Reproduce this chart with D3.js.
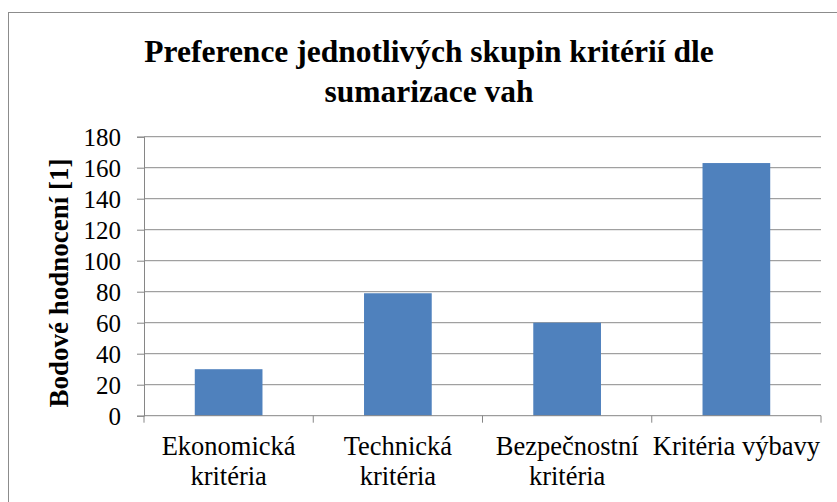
<!DOCTYPE html>
<html>
<head>
<meta charset="utf-8">
<script src="https://cdn.jsdelivr.net/npm/d3@7"></script>
<style>
  body { margin: 0; background: #fff; }
</style>
</head>
<body>
<svg width="837" height="502"></svg>
<script>
const categories = [
    ['Ekonomická', 'kritéria'],
    ['Technická', 'kritéria'],
    ['Bezpečnostní', 'kritéria'],
    ['Kritéria výbavy']
];
const values = [30, 79, 60, 163];
const yTicks = [0, 20, 40, 60, 80, 100, 120, 140, 160, 180];
const titleLines = ['Preference jednotlivých skupin kritérií dle', 'sumarizace vah'];
const yLabel = 'Bodové hodnocení [1]';

const FONT = "'Liberation Serif', 'DejaVu Serif', serif";

const svg = d3.select('svg')
    .attr('font-family', FONT);

// chart frame
svg.append('rect')
    .attr('x', 8.5).attr('y', 12.5)
    .attr('width', 840).attr('height', 500)
    .attr('fill', 'none')
    .attr('stroke', '#8c8c8c');

const plotLeft = 144, plotRight = 821, plotTop = 136.7, plotBottom = 415.7;

const xScale = d3.scaleBand()
    .domain(d3.range(categories.length))
    .range([plotLeft, plotRight])
    .padding(0);

const yScale = d3.scaleLinear()
    .domain([0, 180])
    .range([plotBottom, plotTop]);

// gridlines
svg.append('g')
    .selectAll('line')
    .data(yTicks.filter(d => d > 0))
    .enter()
    .append('line')
    .attr('x1', plotLeft).attr('x2', plotRight)
    .attr('y1', d => yScale(d)).attr('y2', d => yScale(d))
    .attr('stroke', '#8a8a8a');

// bars
svg.append('g')
    .selectAll('rect')
    .data(values)
    .enter()
    .append('rect')
    .attr('x', (d, i) => xScale(i) + xScale.bandwidth() * 0.3)
    .attr('width', xScale.bandwidth() * 0.4)
    .attr('y', d => yScale(d))
    .attr('height', d => plotBottom - yScale(d))
    .attr('fill', '#4f81bd');

// y axis
const yAxis = svg.append('g')
    .attr('transform', `translate(${plotLeft},0)`)
    .call(d3.axisLeft(yScale).tickValues(yTicks).tickSize(7).tickPadding(16));
yAxis.attr('font-family', FONT).attr('font-size', 25);
yAxis.selectAll('text')
    .attr('fill', '#000')
    .attr('dy', '0.34em');

// x axis with ticks at band edges
const xAxis = svg.append('g')
    .attr('transform', `translate(0,${plotBottom})`);
xAxis.append('line')
    .attr('x1', plotLeft).attr('x2', plotRight)
    .attr('stroke', '#868686');
xAxis.selectAll('.tk')
    .data(d3.range(categories.length + 1))
    .enter()
    .append('line')
    .attr('x1', i => i < categories.length ? xScale(i) : plotRight)
    .attr('x2', i => i < categories.length ? xScale(i) : plotRight)
    .attr('y1', 0).attr('y2', 7)
    .attr('stroke', '#868686');

svg.selectAll('.domain, .tick line').attr('stroke', '#868686');

// category labels
svg.append('g')
    .selectAll('text')
    .data(categories)
    .enter()
    .append('text')
    .attr('text-anchor', 'middle')
    .attr('font-size', 26.5)
    .attr('transform', (d, i) => `translate(${xScale(i) + xScale.bandwidth() / 2},455)`)
    .selectAll('tspan')
    .data(d => d)
    .enter()
    .append('tspan')
    .attr('x', 0)
    .attr('y', (d, j) => j * 30)
    .text(d => d);

// title
svg.append('text')
    .attr('text-anchor', 'middle')
    .attr('font-size', 31.5)
    .attr('font-weight', 'bold')
    .selectAll('tspan')
    .data(titleLines)
    .enter()
    .append('tspan')
    .attr('x', 429)
    .attr('y', (d, i) => 61.7 + i * 40)
    .text(d => d);

// y axis label
svg.append('text')
    .attr('text-anchor', 'middle')
    .attr('font-size', 27)
    .attr('font-weight', 'bold')
    .attr('transform', 'translate(68,283) rotate(-90)')
    .text(yLabel);
</script>
</body>
</html>
